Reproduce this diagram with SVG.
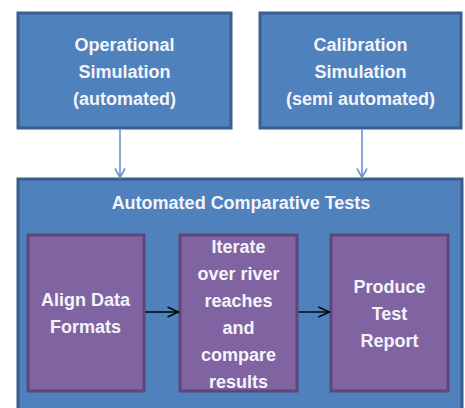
<svg xmlns="http://www.w3.org/2000/svg" width="465" height="408" viewBox="0 0 465 408">
<style>
.blue{fill:#4F81BD;stroke:#3A5F8C;stroke-width:3}
.purple{fill:#8064A2;stroke:#5D4778;stroke-width:3}
text{font-family:"Liberation Sans",Arial,sans-serif;font-size:18px;font-weight:bold;fill:#F4F4FA;text-anchor:middle}
.c1{stroke:#6A93C8;stroke-width:1.6;fill:none}
.c2{stroke:#000000;stroke-width:1.4;fill:none}
</style>
<defs>
<marker id="ab" markerWidth="12" markerHeight="12" refX="10" refY="6" orient="auto" markerUnits="userSpaceOnUse">
<path d="M1,1 L10,6 L1,11" fill="none" stroke="#6A93C8" stroke-width="1.6"/>
</marker>
<marker id="ak" markerWidth="14" markerHeight="12" refX="12" refY="6" orient="auto" markerUnits="userSpaceOnUse">
<path d="M1,1 L12,6 L1,11" fill="none" stroke="#000" stroke-width="1.4"/>
</marker>
</defs>
<g id="operational">
<rect class="blue" x="18" y="13" width="213" height="115"/>
<text x="124.5" y="51">Operational</text>
<text x="124.5" y="78">Simulation</text>
<text x="124.5" y="105">(automated)</text>
</g>
<g id="calibration">
<rect class="blue" x="260" y="13" width="201" height="115"/>
<text x="360.5" y="51">Calibration</text>
<text x="360.5" y="78">Simulation</text>
<text x="360.5" y="105">(semi automated)</text>
</g>
<g id="tests">
<rect class="blue" x="18" y="179" width="444" height="240"/>
<text x="241" y="209">Automated Comparative Tests</text>
</g>
<g id="align">
<rect class="purple" x="28" y="235" width="116" height="156"/>
<text x="85.5" y="306">Align Data</text>
<text x="85.5" y="333">Formats</text>
</g>
<g id="iterate">
<rect class="purple" x="180" y="235" width="117" height="156"/>
<text x="238.5" y="253">Iterate</text>
<text x="238.5" y="280">over river</text>
<text x="238.5" y="307">reaches</text>
<text x="238.5" y="334">and</text>
<text x="238.5" y="361">compare</text>
<text x="238.5" y="388">results</text>
</g>
<g id="report">
<rect class="purple" x="331" y="235" width="117" height="156"/>
<text x="389.5" y="293">Produce</text>
<text x="389.5" y="320">Test</text>
<text x="389.5" y="347">Report</text>
</g>
<g id="connectors">
<line class="c1" x1="120" y1="129.5" x2="120" y2="177.5" marker-end="url(#ab)"/>
<line class="c1" x1="362" y1="129.5" x2="362" y2="177.5" marker-end="url(#ab)"/>
<line class="c2" x1="145.5" y1="312" x2="178.5" y2="312" marker-end="url(#ak)"/>
<line class="c2" x1="298.5" y1="312" x2="329.5" y2="312" marker-end="url(#ak)"/>
</g>
</svg>
